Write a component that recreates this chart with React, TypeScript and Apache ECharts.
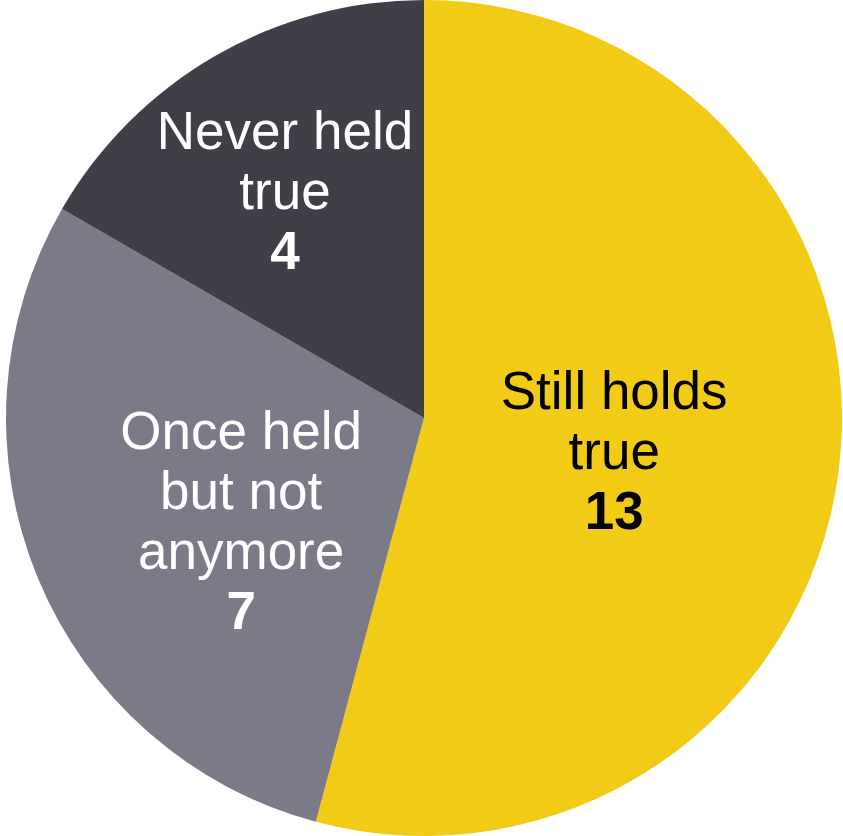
import React, { useEffect, useRef } from "react";
import * as echarts from "echarts";

const categories = ["Still holds\ntrue", "Once held\nbut not\nanymore", "Never held\ntrue"];
const values = [13, 7, 4];
const colors = ["#F2CB16", "#7B7B87", "#403F48"];
const labelColors = ["#000000", "#FFFFFF", "#FFFFFF"];
// label center targets relative to default inside position
const labelShift = [
  [-20, 5],
  [13, 21],
  [-33, -44],
];

export default function App() {
  const ref = useRef<HTMLDivElement>(null);
  useEffect(() => {
    if (!ref.current) return;
    const chart = echarts.init(ref.current, undefined, { renderer: "svg" });
    const font = "Liberation Sans, Arial, sans-serif";
    chart.setOption({
      animation: false,
      series: [
        {
          type: "pie",
          center: [424, 418],
          radius: [0, 418],
          startAngle: 90,
          clockwise: true,
          avoidLabelOverlap: false,
          itemStyle: { borderWidth: 0 },
          emphasis: { disabled: true },
          labelLine: { show: false },
          label: {
            show: true,
            position: "inside",
            fontFamily: font,
            fontSize: 53,
            lineHeight: 60,
            align: "center",
            formatter: (p: any) => `{n|${p.name}}\n{v|${p.value}}`,
          },
          labelLayout: (p: any) => ({
            dx: labelShift[p.dataIndex][0],
            dy: labelShift[p.dataIndex][1],
          }),
          data: categories.map((name, i) => ({
            name,
            value: values[i],
            itemStyle: { color: colors[i] },
            label: {
              color: labelColors[i],
              rich: {
                n: {
                  color: labelColors[i],
                  fontFamily: font,
                  fontSize: 53,
                  lineHeight: 60,
                  align: "center",
                },
                v: {
                  color: labelColors[i],
                  fontFamily: font,
                  fontSize: 53,
                  lineHeight: 60,
                  fontWeight: "bold",
                  align: "center",
                },
              },
            },
          })),
        },
      ],
    });
    return () => chart.dispose();
  }, []);
  return (
    <div
      ref={ref}
      style={{ position: "absolute", left: 0, top: 0, width: 843, height: 836, background: "#FFFFFF" }}
    />
  );
}
